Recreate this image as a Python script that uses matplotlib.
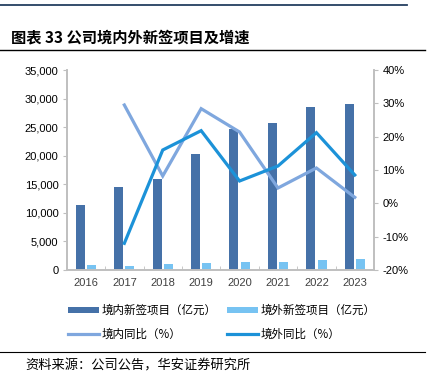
import matplotlib
matplotlib.use("Agg")
import matplotlib.pyplot as plt
import numpy as np
from matplotlib.lines import Line2D
from matplotlib.ticker import FuncFormatter

plt.rcParams['font.family'] = ['Liberation Sans', 'Noto Sans CJK SC', 'DejaVu Sans']

years = ['2016', '2017', '2018', '2019', '2020', '2021', '2022', '2023']
domestic = [11300, 14600, 15900, 20300, 24700, 25800, 28450, 29050]
overseas = [950, 760, 1000, 1230, 1340, 1460, 1800, 1920]
domestic_yoy = [None, 29.5, 8.2, 28.4, 21.4, 4.6, 10.6, 1.8]
overseas_yoy = [None, -12.0, 16.0, 21.8, 6.7, 11.2, 21.2, 8.5]

c_dom = '#4571A8'
c_ovs = '#77C3F2'
c_dom_yoy = '#7FA7DE'
c_ovs_yoy = '#1C92D8'
grid_c = '#BFBFBF'
cjk = ['Noto Sans CJK SC', 'DejaVu Sans']

fig = plt.figure(figsize=(4.3, 3.78), dpi=100)
ax = fig.add_axes([66.7 / 430, 1 - 270 / 378, (374 - 66.7) / 430, 200 / 378])
ax2 = ax.twinx()

x = np.arange(len(years))
w = 0.235
b1 = ax.bar(x - 0.147, domestic, w, color=c_dom, zorder=2)
b2 = ax.bar(x + 0.147, overseas, w, color=c_ovs, zorder=2)

xs = x[1:]
l1, = ax2.plot(xs, domestic_yoy[1:], color=c_dom_yoy, lw=2.3, solid_joinstyle='miter')
l2, = ax2.plot(xs, overseas_yoy[1:], color=c_ovs_yoy, lw=2.3, solid_joinstyle='miter')

ax.set_xlim(-0.5, len(years) - 0.5)
ax.set_ylim(0, 35000)
ax.set_yticks(np.arange(0, 35001, 5000))
ax.yaxis.set_major_formatter(FuncFormatter(lambda v, p: f'{int(v):,}'))
ax2.set_ylim(-20, 40)
ax2.set_yticks(np.arange(-20, 41, 10))
ax2.yaxis.set_major_formatter(FuncFormatter(lambda v, p: f'{int(v)}%'))

ax.set_xticks(x)
ax.set_xticklabels(years)
ax.set_xticks(np.arange(-0.5, len(years)), minor=True)
ax.tick_params(axis='x', which='major', length=0, pad=6, labelsize=8, colors='#404040')
ax.tick_params(axis='x', which='minor', length=3, direction='in', color=grid_c)
ax.tick_params(axis='y', length=3, color=grid_c, labelsize=8, labelcolor='#000000', pad=3)
ax2.tick_params(axis='y', length=3, color=grid_c, labelsize=8, labelcolor='#000000', pad=3)

for a in (ax, ax2):
    a.spines['top'].set_visible(False)
    for s in ('left', 'right', 'bottom'):
        a.spines[s].set_color(grid_c)
        a.spines[s].set_linewidth(1.2)

# legend fills by column, so order handles to get the two rows right
handles = [b1, l1, b2, l2]
labels = ['境内新签项目（亿元）', '境内同比（%）', '境外新签项目（亿元）', '境外同比（%）']
leg = fig.legend(handles, labels, loc='upper left', ncol=2,
                 bbox_to_anchor=(68 / 430, 1 - 304 / 378), frameon=False,
                 prop={'family': cjk, 'size': 8.3}, handlelength=2.7, handleheight=0.45,
                 handletextpad=0.2, columnspacing=0.9, borderpad=0, borderaxespad=0,
                 labelspacing=0.95)

fig.add_artist(Line2D([0, 407 / 430], [1 - 5 / 378] * 2, color='#243F60', lw=1.3))
fig.add_artist(Line2D([0, 425 / 430], [1 - 49.5 / 378] * 2, color='#000000', lw=1.0))
fig.add_artist(Line2D([0, 425 / 430], [1 - 351.5 / 378] * 2, color='#000000', lw=0.8))

fig.text(11 / 430, 1 - 37 / 378, '图表 33 公司境内外新签项目及增速', family=cjk,
         fontsize=11, fontweight='bold', va='center', ha='left')
fig.text(25 / 430, 1 - 366 / 378, '资料来源：公司公告，华安证券研究所', family=cjk,
         fontsize=9.5, va='center', ha='left')

fig.savefig('out.png', dpi=100)
